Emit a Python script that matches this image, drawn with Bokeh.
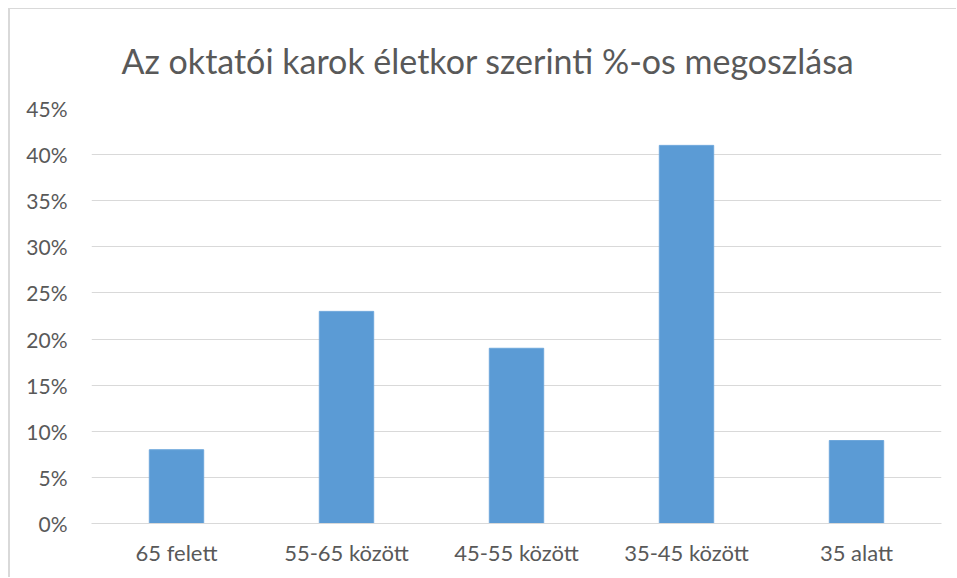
from bokeh.plotting import figure
from bokeh.models import FactorRange, NumeralTickFormatter, FixedTicker
from bokeh.embed import file_html
from bokeh.resources import INLINE

categories = ["65 felett", "55-65 között", "45-55 között", "35-45 között", "35 alatt"]
values = [0.08, 0.23, 0.19, 0.41, 0.09]
y_ticks = [0, 0.05, 0.10, 0.15, 0.20, 0.25, 0.30, 0.35, 0.40, 0.45]
title_text = "Az oktatói karok életkor szerinti %-os megoszlása"

FONT = "Lato"
GREY = "#595959"

p = figure(x_range=FactorRange(*categories, range_padding=0), y_range=(0, 0.45),
           width=948, height=569, output_backend="svg", toolbar_location=None,
           min_border_left=81, min_border_right=17, min_border_top=99, min_border_bottom=55)
p.margin = (8, 0, 0, 8)

p.vbar(x=categories, top=values, width=0.32, color="#5B9BD5", line_color="#6ea7db", line_width=1)

p.title.text = title_text
p.title.align = "left"
p.title.offset = 30
p.title.standoff = 52
p.title.vertical_align = "top"
p.title.text_font = FONT
p.title.text_font_style = "normal"
p.title.text_font_size = "34px"
p.title.text_color = GREY

p.outline_line_color = None
p.styles = {"border-left": "2px solid #d9d9d9", "border-top": "1px solid #d9d9d9"}

p.yaxis.ticker = FixedTicker(ticks=y_ticks)
p.yaxis.formatter = NumeralTickFormatter(format="0%")
p.yaxis.axis_line_color = None
p.yaxis.major_tick_line_color = None
p.yaxis.minor_tick_line_color = None
p.yaxis.major_label_text_font = FONT
p.yaxis.major_label_text_font_size = "21px"
p.yaxis.major_label_text_color = GREY
p.yaxis.major_label_standoff = 18

p.xaxis.axis_line_color = "#d9d9d9"
p.xaxis.major_tick_line_color = None
p.xaxis.minor_tick_line_color = None
p.xaxis.major_label_text_font = FONT
p.xaxis.major_label_text_font_size = "22px"
p.xaxis.major_label_text_color = GREY
p.xaxis.major_label_standoff = 9

p.xgrid.grid_line_color = None
p.ygrid.ticker = FixedTicker(ticks=y_ticks)
p.ygrid.grid_line_color = "#d9d9d9"
p.ygrid.grid_line_width = 1

open("out.html", "w").write(file_html(p, INLINE))
